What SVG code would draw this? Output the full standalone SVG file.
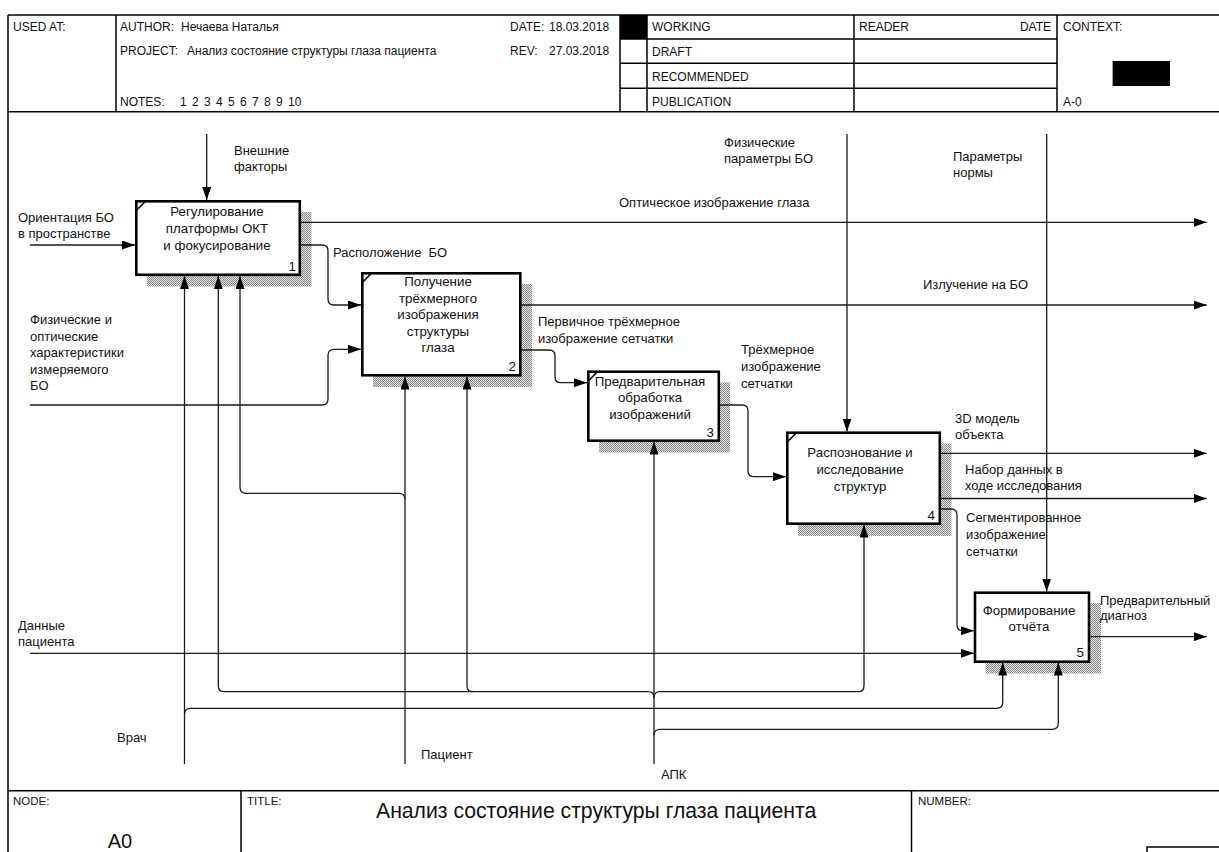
<svg xmlns="http://www.w3.org/2000/svg" width="1219" height="852" viewBox="0 0 1219 852">
<style>
text{font-family:"Liberation Sans",Arial,sans-serif;fill:#111}
.h{font-size:12px}
.l{font-size:13px}
.b{font-size:13.3px;text-anchor:middle}
.n{font-size:13.3px;text-anchor:end}
.frame{stroke:#000;stroke-width:1.5;fill:none}
.box{fill:#fff;stroke:#000;stroke-width:2.6}
.tick{stroke:#000;stroke-width:1.6;fill:none}
.c{fill:none;stroke:#1a1a1a;stroke-width:1.3}
.a{marker-end:url(#ah)}
</style>
<defs>
<pattern id="hatch" width="2" height="2" patternUnits="userSpaceOnUse">
<rect width="2" height="2" fill="#e4e4e4"/>
<rect width="1" height="1" fill="#888"/>
<rect x="1" y="1" width="1" height="1" fill="#888"/>
</pattern>
<marker id="ah" markerWidth="13" markerHeight="9" refX="13" refY="4.5" orient="auto" markerUnits="userSpaceOnUse">
<path d="M0,0 L13,4.5 L0,9 z" fill="#000"/>
</marker>
</defs>
<rect width="1219" height="852" fill="#fff"/>

<g id="header">
<path class="frame" d="M8,15 H1219 M8,15 V852 M8,111.7 H1219 M116,15 V111.7 M620,15 V111.7 M647,15 V111.7 M854,15 V111.7 M1057,15 V111.7 M620,39 H1057 M620,63.3 H1057 M620,88.3 H1057"/>
<rect x="620" y="15" width="27" height="24" fill="#000"/>
<rect x="1112.6" y="61" width="57.4" height="25" fill="#000"/>
<text class="h" x="13" y="31">USED AT:</text>
<text class="h" x="120" y="31">AUTHOR:</text>
<text class="h" x="181" y="31">Нечаева Наталья</text>
<text class="h" x="120" y="55">PROJECT:</text>
<text class="h" x="187" y="55">Анализ состояние структуры глаза пациента</text>
<text class="h" x="120" y="106">NOTES:</text>
<text class="h" x="180" y="106" word-spacing="2">1 2 3 4 5 6 7 8 9 10</text>
<text class="h" x="510" y="31">DATE:</text>
<text class="h" x="549" y="31">18.03.2018</text>
<text class="h" x="510" y="55">REV:</text>
<text class="h" x="549" y="55">27.03.2018</text>
<text class="h" x="652" y="31">WORKING</text>
<text class="h" x="652" y="56">DRAFT</text>
<text class="h" x="652" y="81">RECOMMENDED</text>
<text class="h" x="652" y="106">PUBLICATION</text>
<text class="h" x="859" y="31">READER</text>
<text class="h" x="1051" y="31" text-anchor="end">DATE</text>
<text class="h" x="1063" y="31">CONTEXT:</text>
<text class="h" x="1063" y="106">A-0</text>
</g>

<g id="footer">
<path class="frame" d="M8,790.7 H1219 M241,790.7 V852 M911.5,790.7 V852 M1147,852 V847 H1219"/>
<text x="13" y="805" style="font-size:11.5px">NODE:</text>
<text x="247" y="805" style="font-size:11.5px">TITLE:</text>
<text x="918" y="805" style="font-size:11.5px">NUMBER:</text>
<text x="376" y="818" style="font-size:21.2px">Анализ состояние структуры глаза пациента</text>
<text x="120" y="848" style="font-size:20px" text-anchor="middle">A0</text>
</g>

<g id="node1">
<rect x="147" y="212" width="164.5" height="74.5" fill="url(#hatch)"/>
<rect class="box" x="136.3" y="201.3" width="163.5" height="73.5"/>
<path class="tick" d="M136.3,210.5 L145.5,201.3"/>
<text class="b" x="217" y="216">Регулирование</text>
<text class="b" x="217" y="233">платформы ОКТ</text>
<text class="b" x="217" y="250">и фокусирование</text>
<text class="n" x="296" y="270.7">1</text>
</g>

<g id="node2">
<rect x="373" y="284" width="159" height="103" fill="url(#hatch)"/>
<rect class="box" x="362.3" y="273.3" width="158" height="102"/>
<path class="tick" d="M362.3,282.5 L371.5,273.3"/>
<text class="b" x="438" y="286">Получение</text>
<text class="b" x="438" y="302.5">трёхмерного</text>
<text class="b" x="438" y="319">изображения</text>
<text class="b" x="438" y="335.5">структуры</text>
<text class="b" x="438" y="352">глаза</text>
<text class="n" x="516" y="370.7">2</text>
</g>

<g id="node3">
<rect x="599" y="382.5" width="131" height="70" fill="url(#hatch)"/>
<rect class="box" x="588.3" y="371.7" width="130.5" height="69"/>
<path class="tick" d="M588.3,381 L597.5,371.7"/>
<text class="b" x="650" y="385.7">Предварительная</text>
<text class="b" x="650" y="402">обработка</text>
<text class="b" x="650" y="418.5">изображений</text>
<text class="n" x="714" y="436.7">3</text>
</g>

<g id="node4">
<rect x="798" y="443.5" width="153.5" height="92.5" fill="url(#hatch)"/>
<rect class="box" x="787.3" y="432.7" width="152.5" height="91"/>
<path class="tick" d="M787.3,442 L796.5,432.7"/>
<text class="b" x="860" y="457">Распознование и</text>
<text class="b" x="860" y="474">исследование</text>
<text class="b" x="860" y="490.5">структур</text>
<text class="n" x="935" y="520">4</text>
</g>

<g id="node5">
<rect x="985.5" y="603" width="115.5" height="70.5" fill="url(#hatch)"/>
<rect class="box" x="975" y="592.7" width="114" height="69"/>
<text class="b" x="1029" y="615">Формирование</text>
<text class="b" x="1029" y="631">отчёта</text>
<text class="n" x="1084" y="657.3">5</text>
</g>

<g id="connectors">
<path class="c a" d="M206.7,134 V200"/>
<path class="c a" d="M30,245 H135"/>
<path class="c a" d="M301,222.3 H1206.7"/>
<path class="c a" d="M301,245 H322 Q328,245 328,251 V299 Q328,305 334,305 H361"/>
<path class="c a" d="M30,405 H322 Q328,405 328,399 V355.3 Q328,349.3 334,349.3 H361"/>
<path class="c a" d="M521,305 H1206.7"/>
<path class="c a" d="M521,350 H549 Q555,350 555,356 V376.7 Q555,382.7 561,382.7 H587"/>
<path class="c a" d="M719,405 H742 Q748,405 748,411 V470.7 Q748,476.7 754,476.7 H786"/>
<path class="c a" d="M847,134 V431.5"/>
<path class="c a" d="M1046.7,134 V591.5"/>
<path class="c a" d="M941,453.3 H1206.7"/>
<path class="c a" d="M941,498.5 H1206.7"/>
<path class="c a" d="M941,509 H951 Q957,509 957,515 V624.7 Q957,630.7 963,630.7 H974"/>
<path class="c a" d="M30,653.3 H974"/>
<path class="c a" d="M1089.5,636.7 H1206.7"/>
<path class="c a" d="M184.5,764 V276"/>
<path class="c a" d="M184.5,714.3 Q184.5,708.3 190.5,708.3 H996.7 Q1002.7,708.3 1002.7,702.3 V662.5"/>
<path class="c a" d="M405,764 V376.5"/>
<path class="c a" d="M405,499.3 Q405,493.3 399,493.3 H246 Q240,493.3 240,487.3 V276"/>
<path class="c a" d="M654,764 V441.5"/>
<path class="c a" d="M654,735.3 Q654,729.3 660,729.3 H1052.3 Q1058.3,729.3 1058.3,723.3 V662.5"/>
<path class="c a" d="M654,697.7 Q654,691.7 648,691.7 H224.3 Q218.3,691.7 218.3,685.7 V276"/>
<path class="c a" d="M473,691.7 Q467,691.7 467,685.7 V376.5"/>
<path class="c a" d="M654,697.7 Q654,691.7 660,691.7 H858 Q864,691.7 864,685.7 V524.5"/>
</g>

<g id="labels">
<text class="l" x="234" y="155">Внешние</text>
<text class="l" x="234" y="171">факторы</text>
<text class="l" x="18" y="222">Ориентация БО</text>
<text class="l" x="18" y="238">в пространстве</text>
<text class="l" x="30" y="324">Физические и</text>
<text class="l" x="30" y="340.5">оптические</text>
<text class="l" x="30" y="357">характеристики</text>
<text class="l" x="30" y="373.5">измеряемого</text>
<text class="l" x="30" y="390">БО</text>
<text class="l" x="333" y="256.7" xml:space="preserve">Расположение  БО</text>
<text class="l" x="619" y="207">Оптическое изображение глаза</text>
<text class="l" x="538" y="326">Первичное трёхмерное</text>
<text class="l" x="538" y="343">изображение сетчатки</text>
<text class="l" x="724" y="146.7">Физические</text>
<text class="l" x="724" y="162.7">параметры БО</text>
<text class="l" x="953" y="160.7">Параметры</text>
<text class="l" x="953" y="177">нормы</text>
<text class="l" x="923" y="289">Излучение на БО</text>
<text class="l" x="741" y="354">Трёхмерное</text>
<text class="l" x="741" y="370.7">изображение</text>
<text class="l" x="741" y="387.5">сетчатки</text>
<text class="l" x="955" y="422.7">3D модель</text>
<text class="l" x="955" y="438.5">объекта</text>
<text class="l" x="965" y="474">Набор данных в</text>
<text class="l" x="965" y="489.5">ходе исследования</text>
<text class="l" x="966" y="522">Сегментированное</text>
<text class="l" x="966" y="539">изображение</text>
<text class="l" x="966" y="556">сетчатки</text>
<text class="l" x="1100" y="605">Предварительный</text>
<text class="l" x="1100" y="620">диагноз</text>
<text class="l" x="18" y="630">Данные</text>
<text class="l" x="18" y="646">пациента</text>
<text class="l" x="117" y="742">Врач</text>
<text class="l" x="421" y="759">Пациент</text>
<text class="l" x="661" y="779">АПК</text>
</g>
</svg>
